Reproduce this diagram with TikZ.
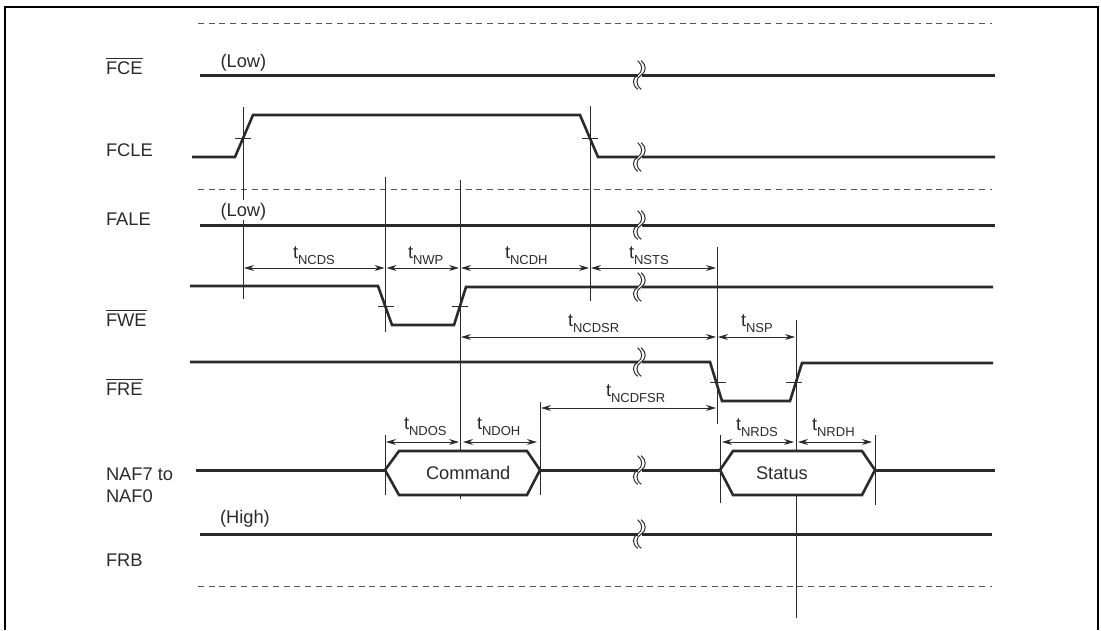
\documentclass[tikz,border=0pt]{standalone}
\usepackage{fontspec}
\setmainfont{Liberation Sans}
\usetikzlibrary{arrows.meta}
\definecolor{ink}{HTML}{2A2A2A}
\newcommand{\tsub}[1]{\fontsize{18.3}{22}\selectfont t\raisebox{-6pt}{\fontsize{13}{15}\selectfont #1}}
\newcommand{\brkcurve}[2]{%
  \draw[brk] (#1-1.3,-#2-14.3) .. controls (#1-7,-#2-10) and (#1-7,-#2-3.2) .. (#1-1.3,-#2) .. controls (#1+4,-#2+3.2) and (#1+4,-#2+10) .. (#1-1.3,-#2+14.3);
}
\newcommand{\brkmark}[1]{%
  \fill[white] (637.5,-#1-2) rectangle (641.5,-#1+2);
  \brkcurve{639}{#1}
  \brkcurve{642.5}{#1}
}
\tikzset{
  x=1pt,y=1pt,
  frameline/.style={line width=2pt,black},
  signal/.style={line width=2.6pt,ink,line join=miter},
  sigflat/.style={line width=3pt,ink},
  guide/.style={line width=1pt,ink},
  tick/.style={line width=.9pt,ink},
  dashline/.style={line width=1pt,ink!80,dash pattern=on 6pt off 4.7pt},
  brk/.style={line width=1pt,ink},
  dimen/.style={line width=.9pt,ink,{Stealth[length=10pt,width=6pt]}-{Stealth[length=10pt,width=6pt]},shorten <=1pt,shorten >=1pt},
  lbl/.style={inner sep=0pt,outer sep=0pt,anchor=base west,text=ink,font=\fontsize{18.3}{22}\selectfont},
  ovl/.style={line width=.9pt,ink},
}
\begin{document}
\begin{tikzpicture}
\useasboundingbox (0,0) rectangle (1101,-630);
\draw[frameline] (5,-630) -- (5,-7) -- (1098,-7) -- (1098,-630);
% dashed rules
\draw[dashline] (198,-23) -- (992,-23);
\draw[dashline] (198,-189.5) -- (992,-189.5);
\draw[dashline] (198,-586) -- (992,-586);
% guide positions
\coordinate (g1) at (243,0);
\coordinate (g2) at (385.5,0);
\coordinate (g3) at (460,0);
\coordinate (g4) at (590,0);
\coordinate (g5) at (717,0);
\coordinate (g6) at (796,0);
\coordinate (g7) at (385,0);
\coordinate (g8) at (540,0);
\coordinate (g9) at (720,0);
\coordinate (g10) at (875,0);
% signals
\draw[sigflat] (200,-75) -- (995,-75);
\draw[signal] (192,-157) -- (235,-157) -- (253,-115) -- (580,-115) -- (598,-157) -- (995,-157);
\draw[sigflat] (200,-225) -- (995,-225);
\draw[signal] (190,-286) -- (378,-286) -- (392,-325) -- (454,-325) -- (466,-287) -- (993,-287);
\draw[signal] (190,-362) -- (710,-362) -- (722,-401) -- (790,-401) -- (802,-363) -- (993,-363);
\draw[sigflat] (196,-470) -- (385,-470);
\draw[signal] (385,-470) -- (399,-451) -- (527,-451) -- (540,-470) -- (527,-495) -- (399,-495) -- cycle;
\draw[sigflat] (540,-470) -- (720,-470);
\draw[signal] (720,-470) -- (733,-451) -- (862,-451) -- (875,-470) -- (862,-495) -- (733,-495) -- cycle;
\draw[sigflat] (875,-470) -- (995,-470);
\draw[sigflat] (200,-534) -- (992,-534);
% break marks
\brkmark{75}\brkmark{157}\brkmark{225}\brkmark{287}\brkmark{362}\brkmark{470}\brkmark{534}
% guides
\draw[guide] (g1 |- 0,-107) -- (g1 |- 0,-200);
\draw[guide] (g1 |- 0,-220) -- (g1 |- 0,-299);
\draw[guide] (g2 |- 0,-177) -- (g2 |- 0,-332);
\draw[guide] (g3 |- 0,-180) -- (g3 |- 0,-451);
\draw[guide] (g3 |- 0,-495) -- (g3 |- 0,-499);
\draw[guide] (g4 |- 0,-106) -- (g4 |- 0,-301);
\draw[guide] (g5 |- 0,-247) -- (g5 |- 0,-424);
\draw[guide] (g6 |- 0,-320) -- (g6 |- 0,-451);
\draw[guide] (g6 |- 0,-495) -- (g6 |- 0,-618);
\draw[guide] (g7 |- 0,-435) -- (g7 |- 0,-495);
\draw[guide] (g8 |- 0,-402) -- (g8 |- 0,-495);
\draw[guide] (g9 |- 0,-435) -- (g9 |- 0,-503);
\draw[guide] (g10 |- 0,-435) -- (g10 |- 0,-505);
% threshold ticks
\draw[tick] (235,-138) -- (251,-138);
\draw[tick] (582,-138) -- (598,-138);
\draw[tick] (378,-306) -- (394,-306);
\draw[tick] (452,-306) -- (468,-306);
\draw[tick] (710,-382) -- (726,-382);
\draw[tick] (786,-382) -- (802,-382);
% dimension arrows
\draw[dimen] (g1 |- 0,-268) -- (g2 |- 0,-268);
\draw[dimen] (g2 |- 0,-268) -- (g3 |- 0,-268);
\draw[dimen] (g3 |- 0,-268) -- (g4 |- 0,-268);
\draw[dimen] (g4 |- 0,-268) -- (g5 |- 0,-268);
\draw[dimen] (g3 |- 0,-337) -- (g5 |- 0,-337);
\draw[dimen] (g5 |- 0,-337) -- (g6 |- 0,-337);
\draw[dimen] (g8 |- 0,-408) -- (g5 |- 0,-408);
\draw[dimen] (g7 |- 0,-442) -- (g3 |- 0,-442);
\draw[dimen,shorten <=3pt,shorten >=3pt] (g3 |- 0,-442) -- (g8 |- 0,-442);
\draw[dimen,shorten <=2pt,shorten >=2pt] (g9 |- 0,-442) -- (g6 |- 0,-442);
\draw[dimen,shorten <=2pt,shorten >=3pt] (g6 |- 0,-442) -- (g10 |- 0,-442);
% signal names
\node[lbl] (nFCE) at (106,-74) {FCE};
\draw[ovl] ([yshift=16pt]nFCE.base west) -- ([yshift=16pt]nFCE.base east);
\node[lbl] (nFCLE) at (106,-156.5) {FCLE};
\node[lbl] (nFALE) at (106,-225) {FALE};
\node[lbl] (nFWE) at (106,-326) {FWE};
\draw[ovl] ([yshift=16pt]nFWE.base west) -- ([yshift=16pt]nFWE.base east);
\node[lbl] (nFRE) at (106,-395) {FRE};
\draw[ovl] ([yshift=16pt]nFRE.base west) -- ([yshift=16pt]nFRE.base east);
\node[lbl] (nNAFa) at (106,-480) {NAF7 to};
\node[lbl] (nNAFb) at (106,-502) {NAF0};
\node[lbl] (nFRB) at (106,-566) {FRB};
% level notes
\node[lbl] (lowA) at (220.5,-67.5) {(Low)};
\node[lbl] (lowB) at (220.5,-216) {(Low)};
\node[lbl] (highA) at (220,-523) {(High)};
% bus values
\node[lbl] (cmd) at (426,-479) {Command};
\node[lbl] (sts) at (756,-479) {Status};
% timing names
\node[lbl] (tNCDS) at (293,-258) {\tsub{NCDS}};
\node[lbl] (tNWP) at (408,-258) {\tsub{NWP}};
\node[lbl] (tNCDH) at (505,-258) {\tsub{NCDH}};
\node[lbl] (tNSTS) at (629,-258) {\tsub{NSTS}};
\node[lbl] (tNCDSR) at (568,-326) {\tsub{NCDSR}};
\node[lbl] (tNSP) at (741,-326) {\tsub{NSP}};
\node[lbl] (tNCDFSR) at (606,-396) {\tsub{NCDFSR}};
\node[lbl] (tNDOS) at (404,-429) {\tsub{NDOS}};
\node[lbl] (tNDOH) at (477,-429) {\tsub{NDOH}};
\node[lbl] (tNRDS) at (736,-430) {\tsub{NRDS}};
\node[lbl] (tNRDH) at (812,-430) {\tsub{NRDH}};
\end{tikzpicture}
\end{document}
